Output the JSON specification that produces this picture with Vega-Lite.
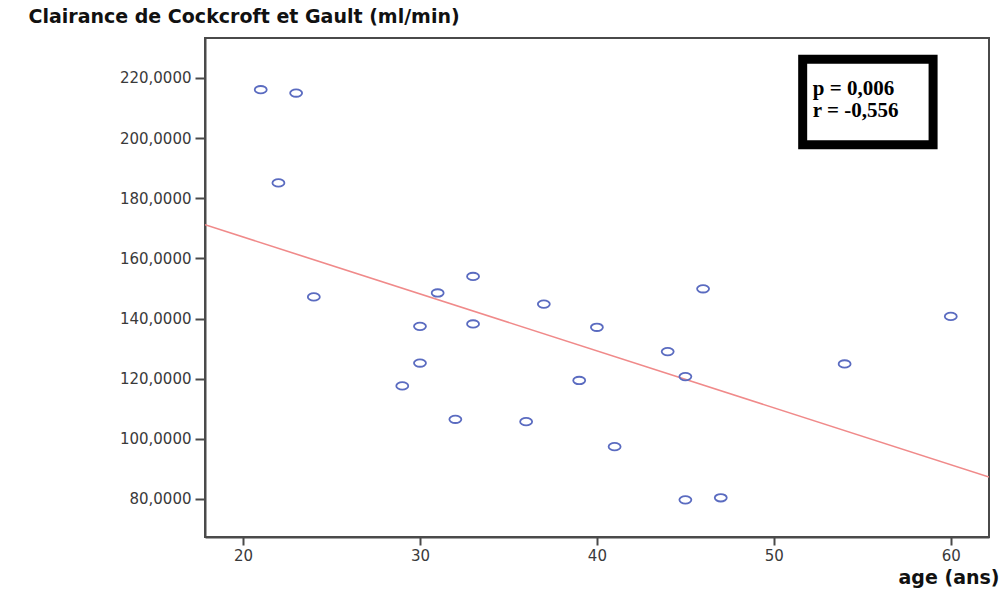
{
  "$schema": "https://vega.github.io/schema/vega-lite/v6.json",
  "width": 784,
  "height": 499,
  "autosize": {"type": "none"},
  "padding": {"left": 205, "top": 38, "right": 12, "bottom": 53},
  "background": "white",
  "config": {
    "locale": {"number": {"decimal": ",", "thousands": ".", "grouping": [3], "currency": ["", " €"]}},
    "view": {"stroke": "#4a4a4a", "strokeWidth": 2},
    "axis": {
      "grid": false,
      "domainColor": "#4a4a4a",
      "domainWidth": 2,
      "tickColor": "#4a4a4a",
      "tickWidth": 2,
      "labelColor": "#3a3a3a",
      "labelFont": "DejaVu Sans",
      "labelFontSize": 15,
      "titleFont": "DejaVu Sans",
      "titleFontWeight": "bold",
      "titleColor": "#111111"
    }
  },
  "datasets": {
    "points": [
      {"age": 21, "clairance": 216.1},
      {"age": 22, "clairance": 185.1},
      {"age": 23, "clairance": 215.0},
      {"age": 24, "clairance": 147.2},
      {"age": 29, "clairance": 117.6},
      {"age": 30, "clairance": 137.4},
      {"age": 30, "clairance": 125.2},
      {"age": 31, "clairance": 148.5},
      {"age": 32, "clairance": 106.5},
      {"age": 33, "clairance": 154.0},
      {"age": 33, "clairance": 138.2},
      {"age": 36, "clairance": 105.7},
      {"age": 37, "clairance": 144.8},
      {"age": 39, "clairance": 119.4},
      {"age": 40, "clairance": 137.1},
      {"age": 41, "clairance": 97.4},
      {"age": 44, "clairance": 129.0},
      {"age": 45, "clairance": 120.7},
      {"age": 45, "clairance": 79.7},
      {"age": 46, "clairance": 149.9},
      {"age": 47, "clairance": 80.4},
      {"age": 54, "clairance": 124.9},
      {"age": 60, "clairance": 140.7}
    ],
    "fit": [
      {"age": 17.85, "clairance": 171.2},
      {"age": 62.16, "clairance": 87.3}
    ],
    "box": [
      {"x1": 51.63, "x2": 59.0, "y1": 226.2, "y2": 197.8}
    ],
    "stats": [
      {"age": 52.2, "clairance": 216.4, "label": "p = 0,006"},
      {"age": 52.2, "clairance": 209.0, "label": "r = -0,556"}
    ]
  },
  "layer": [
    {
      "data": {"name": "fit"},
      "mark": {"type": "line", "color": "#f08a8a", "strokeWidth": 1.6, "clip": true},
      "encoding": {
        "x": {
          "field": "age", "type": "quantitative",
          "scale": {"domain": [17.85, 62.16], "nice": false, "zero": false},
          "axis": {
            "values": [20, 30, 40, 50, 60],
            "tickSize": 8,
            "labelPadding": 3,
            "title": "age (ans)",
            "titleFontSize": 19,
            "titleAlign": "right",
            "titleAnchor": "end",
            "titleX": 794,
            "titleY": 40,
            "titleBaseline": "middle"
          }
        },
        "y": {
          "field": "clairance", "type": "quantitative",
          "scale": {"domain": [67.35, 233.3], "nice": false, "zero": false},
          "axis": {
            "values": [80, 100, 120, 140, 160, 180, 200, 220],
            "format": ".4f",
            "tickSize": 10,
            "labelPadding": 4,
            "title": "Clairance de Cockcroft et Gault  (ml/min)",
            "titleFontSize": 19,
            "titleAngle": 0,
            "titleAlign": "left",
            "titleBaseline": "middle",
            "titleX": -177,
            "titleY": -22
          }
        }
      }
    },
    {
      "data": {"name": "points"},
      "mark": {
        "type": "point",
        "shape": "M-1,0A1,0.62,0,1,0,1,0A1,0.62,0,1,0,-1,0Z",
        "size": 144,
        "filled": false,
        "stroke": "#5a6bc0",
        "strokeWidth": 1.8,
        "opacity": 1
      },
      "encoding": {
        "x": {"field": "age", "type": "quantitative"},
        "y": {"field": "clairance", "type": "quantitative"}
      }
    },
    {
      "data": {"name": "box"},
      "mark": {"type": "rect", "fill": "white", "stroke": "black", "strokeWidth": 9},
      "encoding": {
        "x": {"field": "x1", "type": "quantitative"},
        "x2": {"field": "x2"},
        "y": {"field": "y1", "type": "quantitative"},
        "y2": {"field": "y2"}
      }
    },
    {
      "data": {"name": "stats"},
      "mark": {
        "type": "text",
        "align": "left",
        "baseline": "middle",
        "font": "Liberation Serif",
        "fontWeight": "bold",
        "fontSize": 21,
        "color": "black"
      },
      "encoding": {
        "x": {"field": "age", "type": "quantitative"},
        "y": {"field": "clairance", "type": "quantitative"},
        "text": {"field": "label"}
      }
    }
  ]
}
